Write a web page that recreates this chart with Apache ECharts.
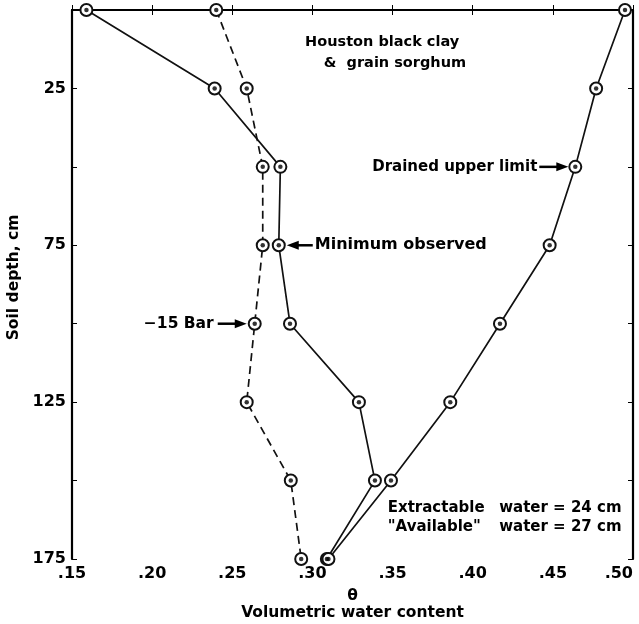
<!DOCTYPE html>
<html lang="en">
<head>
    <meta charset="UTF-8">
    <title>Houston black clay</title>
    <style>
        html, body { margin: 0; padding: 0; background: #fff; }
        #main { width: 639px; height: 624px; }
    </style>
</head>
<body>
<div id="main"></div>
<script src="https://cdn.jsdelivr.net/npm/echarts@6/dist/echarts.min.js"></script>
<script>
    // soil depth (cm) and volumetric water content
    const depths = [0, 25, 50, 75, 100, 125, 150, 175];
    const minObserved = [0.159, 0.239, 0.280, 0.279, 0.286, 0.329, 0.339, 0.309];
    const bar15 = [0.240, 0.259, 0.269, 0.269, 0.264, 0.259, 0.2865, 0.293];
    const drainedUpper = [0.495, 0.477, 0.464, 0.448, 0.417, 0.386, 0.349, 0.310];
    const yTickLabels = [25, 75, 125, 175];

    const font = 'DejaVu Sans';
    const pairs = arr => arr.map((v, i) => [v, depths[i]]);

    function lineSeries(name, arr, dashed) {
        return {
            name: name,
            type: 'line',
            data: pairs(arr),
            symbol: 'emptyCircle',
            symbolSize: 12,
            lineStyle: { color: '#111', width: 1.7, type: dashed ? [8, 5] : 'solid' },
            itemStyle: { color: '#111', borderColor: '#111', borderWidth: 1.3 },
            z: 2,
            animation: false
        };
    }
    function dotSeries(arr) {
        return {
            type: 'scatter',
            data: pairs(arr),
            symbol: 'circle',
            symbolSize: 4.5,
            itemStyle: { color: '#000' },
            z: 5,
            animation: false
        };
    }

    const axisBase = {
        type: 'value',
        axisLine: { show: true, lineStyle: { color: '#000', width: 2.2 } },
        axisTick: { show: true, inside: true, length: 5, lineStyle: { color: '#000', width: 1 } },
        splitLine: { show: false }
    };

    const myChart = echarts.init(document.getElementById('main'));
    myChart.setOption({
        backgroundColor: '#fff',
        textStyle: { fontFamily: font },
        grid: { left: 72, right: 6, top: 10, bottom: 65, outerBoundsMode: 'none', containLabel: false },
        xAxis: [
            Object.assign({}, axisBase, {
                min: 0.15, max: 0.50, interval: 0.05,
                position: 'bottom',
                axisLabel: {
                    color: '#000', fontSize: 16, fontWeight: 'bold', fontFamily: font, margin: 7,
                    alignMaxLabel: 'right',
                    formatter: v => v.toFixed(2).slice(1)
                },
                name: 'θ\nVolumetric water content',
                nameLocation: 'middle',
                nameGap: 28,
                nameTextStyle: { color: '#000', fontSize: 15.5, fontWeight: 'bold', fontFamily: font, lineHeight: 17 }
            }),
            Object.assign({}, axisBase, {
                min: 0.15, max: 0.50, interval: 0.05,
                position: 'top',
                axisLabel: { show: false }
            })
        ],
        yAxis: [
            Object.assign({}, axisBase, {
                inverse: true, min: 0, max: 175, interval: 25,
                position: 'left',
                axisLabel: {
                    color: '#000', fontSize: 16, fontWeight: 'bold', fontFamily: font, margin: 6,
                    formatter: v => yTickLabels.includes(v) ? String(v) : ''
                },
                name: 'Soil depth, cm',
                nameLocation: 'middle',
                nameGap: 47,
                nameTextStyle: { color: '#000', fontSize: 15.5, fontWeight: 'bold', fontFamily: font, padding: [0, 0, 0, 14] }
            }),
            Object.assign({}, axisBase, {
                inverse: true, min: 0, max: 175, interval: 25,
                position: 'right',
                axisLabel: { show: false }
            })
        ],
        series: [
            lineSeries('Minimum observed', minObserved, false),
            lineSeries('-15 Bar', bar15, true),
            lineSeries('Drained upper limit', drainedUpper, false),
            dotSeries(minObserved),
            dotSeries(bar15),
            dotSeries(drainedUpper)
        ]
    });

    // annotations anchored to data points
    const txt = size => ({ fill: '#000', font: 'bold ' + size + 'px "DejaVu Sans"' });
    function arrow(x0, x1, y) {
        const dir = x1 > x0 ? 1 : -1;
        return [
            { type: 'line', shape: { x1: x0, y1: y, x2: x1 - dir * 8, y2: y }, style: { stroke: '#000', lineWidth: 2.5 } },
            { type: 'polygon', shape: { points: [[x1, y], [x1 - dir * 12, y - 4.5], [x1 - dir * 12, y + 4.5]] }, style: { fill: '#000' } }
        ];
    }
    function label(text, p, size, align, vAlign) {
        return { type: 'text', style: Object.assign({ text: text, x: p[0], y: p[1], align: align, verticalAlign: vAlign || 'middle' }, txt(size)) };
    }
    const toPx = (x, y) => myChart.convertToPixel({ gridIndex: 0 }, [x, y]);
    const pDrained = toPx(drainedUpper[2], depths[2]);
    const pMin = toPx(minObserved[3], depths[3]);
    const pBar = toPx(bar15[4], depths[4]);

    let elements = [];
    elements = elements.concat(arrow(pDrained[0] - 36, pDrained[0] - 7, pDrained[1]));
    elements.push(label('Drained upper limit', [pDrained[0] - 38, pDrained[1]], 15, 'right'));
    elements = elements.concat(arrow(pMin[0] + 34, pMin[0] + 8, pMin[1]));
    elements.push(label('Minimum observed', [pMin[0] + 36, pMin[1]], 16, 'left'));
    elements = elements.concat(arrow(pBar[0] - 37, pBar[0] - 8, pBar[1]));
    elements.push(label('−15 Bar', [pBar[0] - 41, pBar[1]], 15.5, 'right'));

    elements.push(label('Houston black clay', toPx(0.3435, 10.2), 14.5, 'center'));
    elements.push(label('&  grain sorghum', toPx(0.3515, 16.9), 14.5, 'center'));

    const colA = toPx(0.347, 158.7)[0];
    const colB = toPx(0.4165, 158.7)[0];
    const row1 = toPx(0.347, 158.7)[1];
    const row2 = toPx(0.347, 164.8)[1];
    elements.push(label('Extractable', [colA, row1], 15, 'left'));
    elements.push(label('water = 24 cm', [colB, row1], 15, 'left'));
    elements.push(label('"Available"', [colA, row2], 15, 'left'));
    elements.push(label('water = 27 cm', [colB, row2], 15, 'left'));
    myChart.setOption({ graphic: { elements: elements } });
</script>
</body>
</html>
